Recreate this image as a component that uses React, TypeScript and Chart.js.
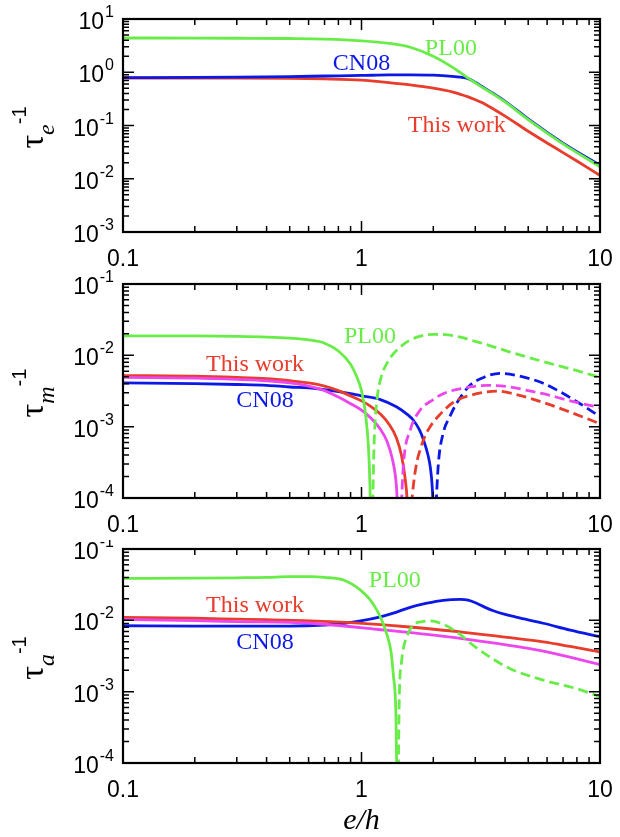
import React, { useEffect, useRef } from 'react';
import { Chart, registerables } from 'chart.js';

Chart.register(...registerables);

// ---------- shared x axis ----------
const X_TICKS = [0.1, 1, 10];
const X_TICK_LABELS = ['0.1', '1', '10'];
const X_TITLE = 'e/h';

// ---------- panel 1 : tau_e^-1 ----------
const E_Y_EXPONENTS = [1, 0, -1, -2, -3];
const E_X = [0.1, 0.2, 0.3, 0.5, 0.7, 1.0, 1.3, 1.6, 2.0, 2.4, 2.6, 2.8, 3.0, 3.2, 3.6, 4.0, 5.0, 6.0, 7.0, 8.0, 10];
const E_PL00 = [4.4, 4.38, 4.35, 4.3, 4.2, 3.9, 3.5, 2.95, 2.0, 1.25, 0.98, 0.775, 0.635, 0.525, 0.38, 0.277, 0.129, 0.0722, 0.0452, 0.031, 0.0168];
const E_CN08 = [0.79, 0.8, 0.81, 0.83, 0.85, 0.87, 0.89, 0.89, 0.88, 0.84, 0.81, 0.76, 0.65, 0.54, 0.39, 0.285, 0.133, 0.0745, 0.0468, 0.0323, 0.018];
const E_THIS = [0.78, 0.78, 0.78, 0.77, 0.75, 0.71, 0.64, 0.58, 0.505, 0.43, 0.385, 0.345, 0.305, 0.27, 0.2, 0.15, 0.078, 0.047, 0.031, 0.0215, 0.0115];

// ---------- panel 2 : tau_m^-1 ----------
const M_Y_EXPONENTS = [-1, -2, -3, -4];
const M_PL00_X = [0.1, 0.2, 0.3, 0.4, 0.5, 0.6, 0.7, 0.8, 0.9, 0.95, 1.0, 1.04, 1.07, 1.085, 1.095];
const M_PL00_Y = [0.0188, 0.0187, 0.0184, 0.018, 0.0174, 0.0165, 0.0148, 0.0115, 0.0075, 0.0052, 0.0032, 0.0015, 0.0005, 0.00015, 0.00003];
const M_PL00_NEG_X = [1.11, 1.13, 1.16, 1.2, 1.3, 1.45, 1.6, 1.8, 2.0, 2.3, 2.6, 3.0, 3.5, 4.2, 6.0, 8.0, 10];
const M_PL00_NEG_Y = [0.00005, 0.0006, 0.0023, 0.0045, 0.0085, 0.013, 0.0164, 0.0189, 0.0197, 0.0194, 0.018, 0.0157, 0.0135, 0.0111, 0.0079, 0.0061, 0.0049];
const M_THIS_X = [0.1, 0.2, 0.3, 0.4, 0.5, 0.6, 0.7, 0.8, 0.9, 1.0, 1.1, 1.2, 1.3, 1.4, 1.47, 1.52, 1.56, 1.575];
const M_THIS_Y = [0.0052, 0.0051, 0.0049, 0.0047, 0.0044, 0.0041, 0.0037, 0.0032, 0.0027, 0.0023, 0.0019, 0.0015, 0.0011, 0.0007, 0.0004, 0.0002, 0.00007, 0.00002];
const M_THIS_NEG_X = [1.6, 1.65, 1.7, 1.76, 1.85, 1.94, 2.1, 2.43, 3.04, 3.7, 4.5, 5.78, 7.5, 10];
const M_THIS_NEG_Y = [0.00005, 0.00015, 0.0003, 0.00047, 0.00075, 0.001, 0.0014, 0.0022, 0.0029, 0.00315, 0.0028, 0.00218, 0.0016, 0.0011];
const M_ALT_X = [0.1, 0.2, 0.3, 0.4, 0.5, 0.6, 0.7, 0.8, 0.9, 1.0, 1.1, 1.2, 1.28, 1.35, 1.4, 1.43];
const M_ALT_Y = [0.0049, 0.0048, 0.0046, 0.0044, 0.0041, 0.0037, 0.0032, 0.0026, 0.0021, 0.0017, 0.0013, 0.00092, 0.00062, 0.00034, 0.00015, 0.00004];
const M_ALT_NEG_X = [1.46, 1.5, 1.6, 1.76, 2.0, 2.2, 2.85, 3.4, 4.2, 5.0, 5.78, 7.5, 10];
const M_ALT_NEG_Y = [0.00005, 0.0003, 0.00089, 0.0017, 0.0024, 0.0029, 0.0036, 0.0038, 0.0036, 0.0032, 0.0029, 0.0023, 0.00185];
const M_CN08_X = [0.1, 0.2, 0.3, 0.4, 0.5, 0.6, 0.7, 0.8, 0.9, 1.0, 1.2, 1.4, 1.55, 1.65, 1.75, 1.82, 1.9, 1.94, 1.98, 2.0, 2.01];
const M_CN08_Y = [0.0041, 0.004, 0.0039, 0.0038, 0.0036, 0.0035, 0.0033, 0.0031, 0.0029, 0.0027, 0.0024, 0.0019, 0.0015, 0.00123, 0.0009, 0.00065, 0.0004, 0.00028, 0.00014, 0.00006, 0.00002];
const M_CN08_NEG_X = [2.04, 2.1, 2.2, 2.35, 2.5, 2.85, 3.25, 3.8, 4.5, 5.78, 8.0, 10];
const M_CN08_NEG_Y = [0.00005, 0.0003, 0.00081, 0.0014, 0.0021, 0.0038, 0.0049, 0.0056, 0.0052, 0.00405, 0.00224, 0.00138];

// ---------- panel 3 : tau_a^-1 ----------
const A_Y_EXPONENTS = [-1, -2, -3, -4];
const A_PL00_X = [0.1, 0.2, 0.3, 0.4, 0.5, 0.61, 0.7, 0.84, 0.99, 1.08, 1.158, 1.22, 1.28, 1.33, 1.36, 1.395, 1.41];
const A_PL00_Y = [0.0387, 0.039, 0.0395, 0.04, 0.041, 0.041, 0.04, 0.0367, 0.0266, 0.02, 0.014, 0.0098, 0.0062, 0.0036, 0.0017, 0.00043, 0.00003];
const A_PL00_NEG_X = [1.425, 1.44, 1.47, 1.5, 1.57, 1.65, 1.8, 1.94, 2.2, 2.5, 3.04, 3.6, 4.2, 5.78, 8.0, 10];
const A_PL00_NEG_Y = [0.00005, 0.0008, 0.0025, 0.0041, 0.0066, 0.0086, 0.0096, 0.0098, 0.0088, 0.0069, 0.0041, 0.0028, 0.0021, 0.00145, 0.0011, 0.00085];
const A_CN08_X = [0.1, 0.2, 0.3, 0.5, 0.7, 0.85, 0.99, 1.2, 1.36, 1.6, 1.88, 2.2, 2.59, 2.8, 3.04, 3.3, 3.57, 4.0, 4.5, 5.78, 7.5, 10];
const A_CN08_Y = [0.0084, 0.0083, 0.0083, 0.0083, 0.0086, 0.0091, 0.0098, 0.0112, 0.0126, 0.0152, 0.0174, 0.0191, 0.0197, 0.0192, 0.0174, 0.0152, 0.0136, 0.0121, 0.011, 0.0091, 0.0073, 0.0059];
const A_THIS_X = [0.1, 0.2, 0.3, 0.4, 0.61, 1.158, 1.5, 2.59, 4.0, 5.78, 7.5, 10];
const A_THIS_Y = [0.011, 0.0107, 0.0104, 0.0102, 0.0098, 0.0088, 0.0082, 0.0069, 0.0058, 0.005, 0.0043, 0.0036];
const A_ALT_X = [0.1, 0.2, 0.3, 0.61, 1.158, 2.59, 5.78, 10];
const A_ALT_Y = [0.0103, 0.0099, 0.0096, 0.0091, 0.0075, 0.0056, 0.0037, 0.0024];

// ---------- styling ----------
const GREEN = '#68ec48';
const BLUE = '#0c18e6';
const RED = '#e83c2c';
const MAGENTA = '#ec46ec';
const SANS = '"Liberation Sans", Arial, Helvetica, sans-serif';
const SERIF = '"Liberation Serif", "Times New Roman", Times, serif';

type Series = { x: number[]; y: number[]; color: string; dashed?: boolean };
type Label = { text: string; x: number; y: number; color: string };
type PanelProps = {
  top: number;
  height: number;
  plotTop: number;
  plotBottom: number;
  yExps: number[];
  series: Series[];
  labels: Label[];
  sub: string;
  xTitle?: boolean;
};

function Panel(p: PanelProps) {
  const ref = useRef<HTMLCanvasElement>(null);
  useEffect(() => {
    const canvas = ref.current!;
    const yMax = Math.pow(10, Math.max(...p.yExps));
    const yMin = Math.pow(10, Math.min(...p.yExps));
    const deco = {
      id: 'deco',
      afterDraw(chart: any) {
        const ctx: CanvasRenderingContext2D = chart.ctx;
        const a = chart.chartArea;
        const xs = chart.scales.x;
        const ys = chart.scales.y;
        ctx.save();
        ctx.strokeStyle = '#000';
        ctx.fillStyle = '#000';
        // ticks
        ctx.lineWidth = 1.5;
        const eMin = Math.min(...p.yExps);
        const eMax = Math.max(...p.yExps);
        for (let e = eMin; e <= eMax; e++) {
          for (let k = 1; k <= 9; k++) {
            const v = k * Math.pow(10, e);
            if (v < yMin * 0.999 || v > yMax * 1.001) continue;
            const py = ys.getPixelForValue(v);
            const len = k === 1 ? 11 : 6;
            ctx.beginPath();
            ctx.moveTo(a.left, py);
            ctx.lineTo(a.left + len, py);
            ctx.moveTo(a.right, py);
            ctx.lineTo(a.right - len, py);
            ctx.stroke();
          }
        }
        for (let e = -1; e <= 1; e++) {
          for (let k = 1; k <= 9; k++) {
            const v = k * Math.pow(10, e);
            if (v < 0.0999 || v > 10.001) continue;
            const px = xs.getPixelForValue(v);
            const len = k === 1 ? 11 : 6;
            ctx.beginPath();
            ctx.moveTo(px, a.bottom);
            ctx.lineTo(px, a.bottom - len);
            ctx.moveTo(px, a.top);
            ctx.lineTo(px, a.top + len);
            ctx.stroke();
          }
        }
        // frame
        ctx.lineWidth = 2.2;
        ctx.strokeRect(a.left, a.top, a.right - a.left, a.bottom - a.top);

        // y tick labels (10^n)
        const R = a.left - 9;
        for (const e of p.yExps) {
          const py = ys.getPixelForValue(Math.pow(10, e));
          ctx.font = `16px ${SANS}`;
          const sup = String(e);
          const w2 = ctx.measureText(sup).width;
          ctx.font = `23px ${SANS}`;
          const w1 = ctx.measureText('10').width;
          ctx.textAlign = 'left';
          ctx.textBaseline = 'alphabetic';
          ctx.fillText('10', R - w2 - w1 - 1, py + 10);
          ctx.font = `16px ${SANS}`;
          ctx.fillText(sup, R - w2, py - 2);
        }
        // x tick labels
        ctx.font = `23px ${SANS}`;
        ctx.textAlign = 'center';
        X_TICKS.forEach((v, i) => {
          ctx.fillText(X_TICK_LABELS[i], xs.getPixelForValue(v), a.bottom + 34);
        });
        // x title
        if (p.xTitle) {
          ctx.font = `italic 30px ${SERIF}`;
          ctx.fillText(X_TITLE, (a.left + a.right) / 2, a.bottom + 66);
        }
        // series labels
        ctx.font = `24px ${SERIF}`;
        ctx.textBaseline = 'middle';
        for (const l of p.labels) {
          ctx.fillStyle = l.color;
          ctx.fillText(l.text, xs.getPixelForValue(l.x), ys.getPixelForValue(l.y));
        }
        // y title: tau_sub^-1 rotated
        ctx.fillStyle = '#000';
        ctx.textBaseline = 'alphabetic';
        ctx.textAlign = 'left';
        ctx.font = `34px ${SERIF}`;
        const wT = ctx.measureText('τ').width;
        ctx.font = `italic 24px ${SERIF}`;
        const wS = ctx.measureText(p.sub).width;
        ctx.font = `20px ${SANS}`;
        const wP = ctx.measureText('-1').width;
        const total = wT + wS + wP;
        ctx.translate(43, (a.top + a.bottom) / 2 + 2);
        ctx.rotate(-Math.PI / 2);
        const x0 = -total / 2;
        ctx.font = `34px ${SERIF}`;
        ctx.fillText('τ', x0, 0);
        ctx.font = `italic 24px ${SERIF}`;
        ctx.fillText(p.sub, x0 + wT, 11);
        ctx.font = `20px ${SANS}`;
        ctx.fillText('-1', x0 + wT + wS, -17);
        ctx.restore();
      },
    };

    const chart = new Chart(canvas, {
      type: 'line',
      data: {
        datasets: p.series.map((s) => ({
          data: s.x.map((x, i) => ({ x, y: s.y[i] })),
          borderColor: s.color,
          backgroundColor: s.color,
          borderWidth: 2.8,
          borderDash: s.dashed ? [10, 5] : [],
          pointRadius: 0,
          cubicInterpolationMode: 'monotone' as const,
          fill: false,
        })),
      },
      options: {
        responsive: false,
        animation: false,
        events: [],
        layout: { padding: { top: p.plotTop, right: 20, left: 0, bottom: 0 } },
        plugins: { legend: { display: false }, tooltip: { enabled: false } },
        scales: {
          x: {
            type: 'logarithmic',
            min: 0.1,
            max: 10,
            ticks: { display: false },
            grid: { display: false },
            border: { display: false },
            afterFit: (s: any) => {
              s.height = p.height - p.plotBottom;
            },
          },
          y: {
            type: 'logarithmic',
            min: yMin,
            max: yMax,
            ticks: { display: false },
            grid: { display: false },
            border: { display: false },
            afterFit: (s: any) => {
              s.width = 123;
            },
          },
        },
      } as any,
      plugins: [deco],
    });
    return () => chart.destroy();
  }, []);
  return (
    <canvas
      ref={ref}
      width={620}
      height={p.height}
      style={{ position: 'absolute', left: 0, top: p.top, width: 620, height: p.height }}
    />
  );
}

export default function App() {
  return (
    <div style={{ position: 'absolute', left: 0, top: 0, width: 620, height: 837, background: '#fff' }}>
      <Panel
        top={0}
        height={270}
        plotTop={19}
        plotBottom={232}
        yExps={E_Y_EXPONENTS}
        sub="e"
        series={[
          { x: E_X, y: E_PL00, color: GREEN },
          { x: E_X, y: E_CN08, color: BLUE },
          { x: E_X, y: E_THIS, color: RED },
        ]}
        labels={[
          { text: 'PL00', x: 2.37, y: 2.74, color: GREEN },
          { text: 'CN08', x: 1.0, y: 1.43, color: BLUE },
          { text: 'This work', x: 2.51, y: 0.098, color: RED },
        ]}
      />
      <Panel
        top={270}
        height={270}
        plotTop={14}
        plotBottom={228}
        yExps={M_Y_EXPONENTS}
        sub="m"
        series={[
          { x: M_PL00_X, y: M_PL00_Y, color: GREEN },
          { x: M_PL00_NEG_X, y: M_PL00_NEG_Y, color: GREEN, dashed: true },
          { x: M_ALT_X, y: M_ALT_Y, color: MAGENTA },
          { x: M_ALT_NEG_X, y: M_ALT_NEG_Y, color: MAGENTA, dashed: true },
          { x: M_THIS_X, y: M_THIS_Y, color: RED },
          { x: M_THIS_NEG_X, y: M_THIS_NEG_Y, color: RED, dashed: true },
          { x: M_CN08_X, y: M_CN08_Y, color: BLUE },
          { x: M_CN08_NEG_X, y: M_CN08_NEG_Y, color: BLUE, dashed: true },
        ]}
        labels={[
          { text: 'PL00', x: 1.085, y: 0.0181, color: GREEN },
          { text: 'This work', x: 0.358, y: 0.00731, color: RED },
          { text: 'CN08', x: 0.394, y: 0.00229, color: BLUE },
        ]}
      />
      <Panel
        top={540}
        height={297}
        plotTop={9}
        plotBottom={223}
        yExps={A_Y_EXPONENTS}
        sub="a"
        xTitle
        series={[
          { x: A_PL00_X, y: A_PL00_Y, color: GREEN },
          { x: A_PL00_NEG_X, y: A_PL00_NEG_Y, color: GREEN, dashed: true },
          { x: A_ALT_X, y: A_ALT_Y, color: MAGENTA },
          { x: A_THIS_X, y: A_THIS_Y, color: RED },
          { x: A_CN08_X, y: A_CN08_Y, color: BLUE },
        ]}
        labels={[
          { text: 'PL00', x: 1.38, y: 0.0356, color: GREEN },
          { text: 'This work', x: 0.358, y: 0.0159, color: RED },
          { text: 'CN08', x: 0.394, y: 0.00481, color: BLUE },
        ]}
      />
    </div>
  );
}
